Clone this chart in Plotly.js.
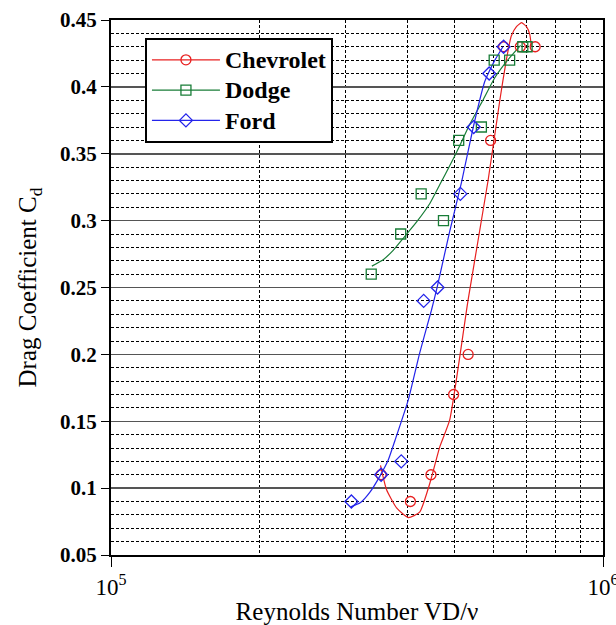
<!DOCTYPE html>
<html>
<head>
<meta charset="utf-8">
<script src="https://cdn.plot.ly/plotly-3.0.1.min.js"></script>
<style>html,body{margin:0;padding:0;background:#fff;}#chart{width:616px;height:625px;}</style>
</head>
<body>
<div id="chart"></div>
<script>
// Measured data (Reynolds number, drag coefficient)
const chevX = [3.54e5, 4.06e5, 4.47e5, 4.97e5, 5.32e5, 5.91e5, 6.28e5, 6.79e5, 7.28e5];
const chevY = [0.11, 0.09, 0.11, 0.17, 0.20, 0.36, 0.43, 0.43, 0.43];
const dodgeX = [3.38e5, 3.88e5, 4.27e5, 4.74e5, 5.09e5, 5.66e5, 6.01e5, 6.46e5, 6.87e5, 7.01e5];
const dodgeY = [0.26, 0.29, 0.32, 0.30, 0.36, 0.37, 0.42, 0.42, 0.43, 0.43];
const fordX = [3.08e5, 3.54e5, 3.89e5, 4.32e5, 4.61e5, 5.13e5, 5.46e5, 5.87e5, 6.28e5];
const fordY = [0.09, 0.11, 0.12, 0.24, 0.25, 0.32, 0.37, 0.41, 0.43];

// Fitted curves
const chevFitX = [3.53e5, 3.63e5, 3.81e5, 4.02e5, 4.24e5, 4.45e5, 4.66e5, 4.88e5, 5.32e5, 5.84e5, 6.17e5, 6.36e5, 6.51e5, 6.67e5, 6.83e5, 6.99e5, 7.10e5, 7.15e5];
const chevFitY = [0.117, 0.099, 0.085, 0.078, 0.082, 0.104, 0.131, 0.151, 0.241, 0.330, 0.390, 0.420, 0.438, 0.445, 0.448, 0.445, 0.439, 0.430];
const dodgeFitX = [3.39e5, 3.58e5, 3.75e5, 3.93e5, 4.18e5, 4.45e5, 4.66e5, 4.88e5, 5.10e5, 5.36e5, 5.70e5, 6.03e5, 6.40e5, 6.80e5];
const dodgeFitY = [0.266, 0.271, 0.278, 0.287, 0.299, 0.313, 0.327, 0.341, 0.355, 0.372, 0.390, 0.407, 0.420, 0.431];
const fordFitX = [3.07e5, 3.21e5, 3.36e5, 3.52e5, 3.66e5, 3.78e5, 4.02e5, 4.24e5, 4.48e5, 4.60e5, 4.88e5, 5.16e5, 5.45e5, 5.75e5, 5.86e5, 6.03e5, 6.26e5];
const fordFitY = [0.086, 0.089, 0.097, 0.109, 0.121, 0.136, 0.166, 0.201, 0.233, 0.250, 0.292, 0.329, 0.370, 0.404, 0.411, 0.420, 0.430];

const seriesNames = ['Chevrolet', 'Dodge', 'Ford'];
const xTickVals = [1e5, 1e6];
const xTickText = ['10<sup>5</sup>', '10<sup>6</sup>'];
const xMinorVals = [2e5, 3e5, 4e5, 5e5, 6e5, 7e5, 8e5, 9e5];

const RED = 'rgb(232,32,32)', GREEN = 'rgb(24,125,55)', BLUE = 'rgb(36,36,235)';
const FONT = 'Liberation Serif, Times New Roman, serif';

function fit(x, y, c) {
  return {x: x, y: y, mode: 'lines', type: 'scatter', showlegend: false, hoverinfo: 'skip',
    line: {color: c, width: 1.2, shape: 'spline', smoothing: 0.5}};
}
function pts(x, y, c, sym) {
  return {x: x, y: y, mode: 'markers', type: 'scatter', showlegend: false,
    marker: {symbol: sym, size: 10, color: c, line: {color: c, width: 1.3}}};
}
function leg(name, c, sym) {
  return {x: [null], y: [null], mode: 'lines+markers', type: 'scatter',
    name: '<span style="font-size:24px"><b>' + name + '</b></span>',
    line: {color: c, width: 1.2}, marker: {symbol: sym, size: 10, color: c, line: {color: c, width: 1.3}}};
}

const data = [
  fit(chevFitX, chevFitY, RED), fit(dodgeFitX, dodgeFitY, GREEN), fit(fordFitX, fordFitY, BLUE),
  pts(chevX, chevY, RED, 'circle-open'), pts(dodgeX, dodgeY, GREEN, 'square-open'), pts(fordX, fordY, BLUE, 'diamond-open'),
  leg(seriesNames[0], RED, 'circle-open'), leg(seriesNames[1], GREEN, 'square-open'), leg(seriesNames[2], BLUE, 'diamond-open')
];

const layout = {
  width: 616, height: 625,
  margin: {l: 111, r: 13, t: 20, b: 70},
  paper_bgcolor: '#fff', plot_bgcolor: '#fff',
  font: {family: FONT, color: '#000'},
  hovermode: false,
  showlegend: true,
  legend: {x: 0.069, y: 0.967, xanchor: 'left', yanchor: 'top', bgcolor: '#fff',
    bordercolor: '#000', borderwidth: 2, itemwidth: 68, font: {family: FONT, size: 21},
    tracegroupgap: 0},
  xaxis: {
    type: 'log', range: [4.99999, 6.00001],
    tickmode: 'array', tickvals: xTickVals, ticktext: xTickText,
    ticks: 'outside', ticklen: 10, tickwidth: 1, tickcolor: '#000',
    tickfont: {family: FONT, size: 23}, ticklabeloverflow: 'allow',
    showgrid: false, zeroline: false,
    showline: true, mirror: true, linecolor: '#000', linewidth: 2,
    minor: {tickmode: 'array', tickvals: xMinorVals, ticks: '', showgrid: true,
      gridcolor: '#000', gridwidth: 1, griddash: '3px,2px'},
    title: {text: 'Reynolds Number VD/ν', font: {family: FONT, size: 25}, standoff: 8}
  },
  yaxis: {
    range: [0.05, 0.45], dtick: 0.05, tick0: 0.05,
    ticks: 'outside', ticklen: 8, tickwidth: 1, tickcolor: '#000',
    tickfont: {family: FONT, size: 21, weight: 'bold'},
    showgrid: true, gridcolor: '#555', gridwidth: 1.5, zeroline: false,
    showline: true, mirror: true, linecolor: '#000', linewidth: 2,
    minor: {dtick: 0.01, ticks: '', showgrid: true, gridcolor: '#000', gridwidth: 1, griddash: '3px,2px'},
    title: {text: 'Drag Coefficient C<sub>d</sub>', font: {family: FONT, size: 25}, standoff: 16}
  }
};

Plotly.newPlot('chart', data, layout, {staticPlot: true, displayModeBar: false});
</script>
</body>
</html>
